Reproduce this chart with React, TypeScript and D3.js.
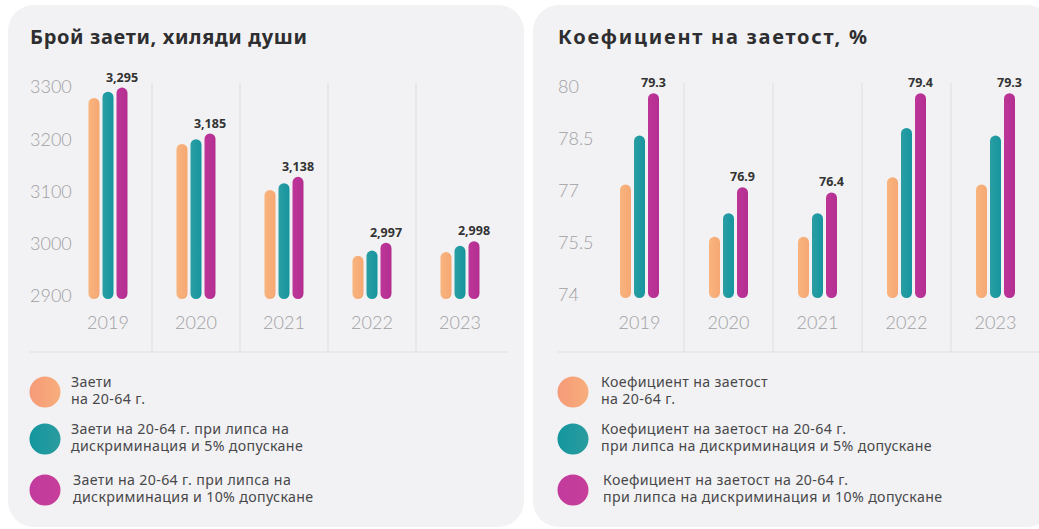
import React from 'react';
import * as d3 from 'd3';

// data
const years = ['2019', '2020', '2021', '2022', '2023'];

const employedBase = [3279, 3191, 3103, 2977, 2984];
const employed5 = [3291, 3200, 3116, 2987, 2996];
const employed10 = [3299, 3211, 3128, 3002, 3005];
const employedLabels = ['3,295', '3,185', '3,138', '2,997', '2,998'];
const employedTicks = [2900, 3000, 3100, 3200, 3300];
const employedLegend = [
    ['Заети', 'на 20-64 г.'],
    ['Заети на 20-64 г. при липса на', 'дискриминация и 5% допускане'],
    ['Заети на 20-64 г. при липса на', 'дискриминация и 10% допускане'],
];

const rateBase = [77.19, 75.68, 75.68, 77.4, 77.19];
const rate5 = [78.6, 76.36, 76.36, 78.82, 78.6];
const rate10 = [79.82, 77.11, 76.96, 79.82, 79.82];
const rateLabels = ['79.3', '76.9', '76.4', '79.4', '79.3'];
const rateTicks = [74, 75.5, 77, 78.5, 80];
const rateLegend = [
    ['Коефициент на заетост', 'на 20-64 г.'],
    ['Коефициент на заетост на 20-64 г.', 'при липса на дискриминация и 5% допускане'],
    ['Коефициент на заетост на 20-64 г.', 'при липса на дискриминация и 10% допускане'],
];

const colors = [
    ['#f9b47d', '#f6a874'],
    ['#2a9ea3', '#16959f'],
    ['#bd3597', '#b42e92'],
];
const legendColors = [
    ['#f59a78', '#f8ae7c'],
    ['#14969f', '#2a9c9f'],
    ['#c23a9d', '#c73f9a'],
];

const titleFont = '"Noto Sans", "DejaVu Sans", sans-serif';
const numFont = 'Lato, "Noto Sans", sans-serif';

type PanelProps = {
    id: string;
    cardX: number;
    cardW: number;
    contentX: number;
    title: string;
    titleW: number;
    ticks: number[];
    series: number[][];
    topLabels: string[];
    legend: string[][];
    xRange: [number, number];
    yRange: [number, number];
    lineEnd: number;
    legendShift: number;
};

const Panel = ({ id, cardX, cardW, contentX, title, titleW, ticks, series, topLabels, legend, xRange, yRange, lineEnd, legendShift }: PanelProps) => {
    const x = d3.scaleBand().domain(years).range(xRange);
    const y = d3.scaleLinear().domain(d3.extent(ticks) as [number, number]).range(yRange);
    const barW = 11;
    const step = 14;
    const base = y(ticks[0]) + 3;
    const bw = x.bandwidth();

    return (
        <g>
            <rect x={cardX} y={5} width={cardW} height={522} rx={26} fill="#f2f2f4" />
            <text x={contentX} y={44} fontFamily={titleFont} fontWeight={700} fontSize={20} fill="#2e2e30"
                textLength={titleW} lengthAdjust="spacing">{title}</text>

            {/* y ticks */}
            {ticks.map(t => (
                <text key={t} x={contentX} y={y(t)} dy="0.36em" fontFamily={numFont} fontWeight={300} fontSize={18} fill="#a0a0a2">{t}</text>
            ))}

            {/* column separators */}
            {years.slice(1).map(yr => (
                <line key={yr} x1={x(yr)} x2={x(yr)} y1={83} y2={352} stroke="#dedee0" strokeWidth={1} />
            ))}
            <line x1={contentX} x2={lineEnd} y1={352} y2={352} stroke="#dedee0" strokeWidth={1} />

            {/* bars */}
            {series.map((vals, si) => vals.map((v, i) => {
                const cx = (x(years[i]) as number) + bw / 2 + (si - 1) * step;
                return (
                    <rect key={`${si}-${i}`} x={cx - barW / 2} y={y(v)} width={barW} height={base - y(v)}
                        rx={barW / 2} fill={`url(#${id}-bar${si})`} />
                );
            }))}

            {/* value labels over the last series */}
            {topLabels.map((lab, i) => (
                <text key={lab + i} x={(x(years[i]) as number) + bw / 2 + step} y={y(series[2][i]) - 6}
                    textAnchor="middle" fontFamily={titleFont} fontWeight={700} fontSize={12.5} fill="#333">{lab}</text>
            ))}

            {/* year labels */}
            {years.map(yr => (
                <text key={yr} x={(x(yr) as number) + bw / 2} y={323} dy="0.36em" textAnchor="middle"
                    fontFamily={numFont} fontWeight={300} fontSize={18} fill="#a0a0a2">{yr}</text>
            ))}

            {/* legend */}
            {legend.map((lines, i) => {
                const cy = [392, 439, 490][i];
                return (
                    <g key={i}>
                        <circle cx={contentX + 15} cy={cy} r={15.5} fill={`url(#${id}-leg${i})`} />
                        {lines.map((ln, j) => (
                            <text key={j} x={contentX + legendShift + (i === 2 ? 2 : 0)} y={cy - 10 + j * 17} dy="0.35em"
                                fontFamily={titleFont} fontSize={14.2} letterSpacing={0.35} fill="#48484a">{ln}</text>
                        ))}
                    </g>
                );
            })}
        </g>
    );
};

export default function App() {
    return (
        <svg width={1039} height={529} lang="bg" style={{ position: 'fixed', left: 0, top: 0, background: '#fff' }}>
            <defs>
                {['l', 'r'].map(p => (
                    <React.Fragment key={p}>
                        {colors.map((c, i) => (
                            <linearGradient key={'b' + i} id={`${p}-bar${i}`} x1="0" x2="1" y1="0" y2="0">
                                <stop offset="0" stopColor={c[0]} />
                                <stop offset="1" stopColor={c[1]} />
                            </linearGradient>
                        ))}
                        {legendColors.map((c, i) => (
                            <linearGradient key={'g' + i} id={`${p}-leg${i}`} x1="0" x2="1" y1="0" y2="0">
                                <stop offset="0" stopColor={c[0]} />
                                <stop offset="1" stopColor={c[1]} />
                            </linearGradient>
                        ))}
                    </React.Fragment>
                ))}
            </defs>
            <Panel id="l" cardX={8} cardW={516} contentX={30} title="Брой заети, хиляди души" titleW={277}
                ticks={employedTicks} series={[employedBase, employed5, employed10]} topLabels={employedLabels}
                legend={employedLegend} xRange={[64, 504]} yRange={[296, 87]} lineEnd={508} legendShift={41} />
            <Panel id="r" cardX={533} cardW={520} contentX={558} title="Коефициент на заетост, %" titleW={309}
                ticks={rateTicks} series={[rateBase, rate5, rate10]} topLabels={rateLabels}
                legend={rateLegend} xRange={[595, 1040]} yRange={[295, 87]} lineEnd={1039} legendShift={43} />
        </svg>
    );
}
